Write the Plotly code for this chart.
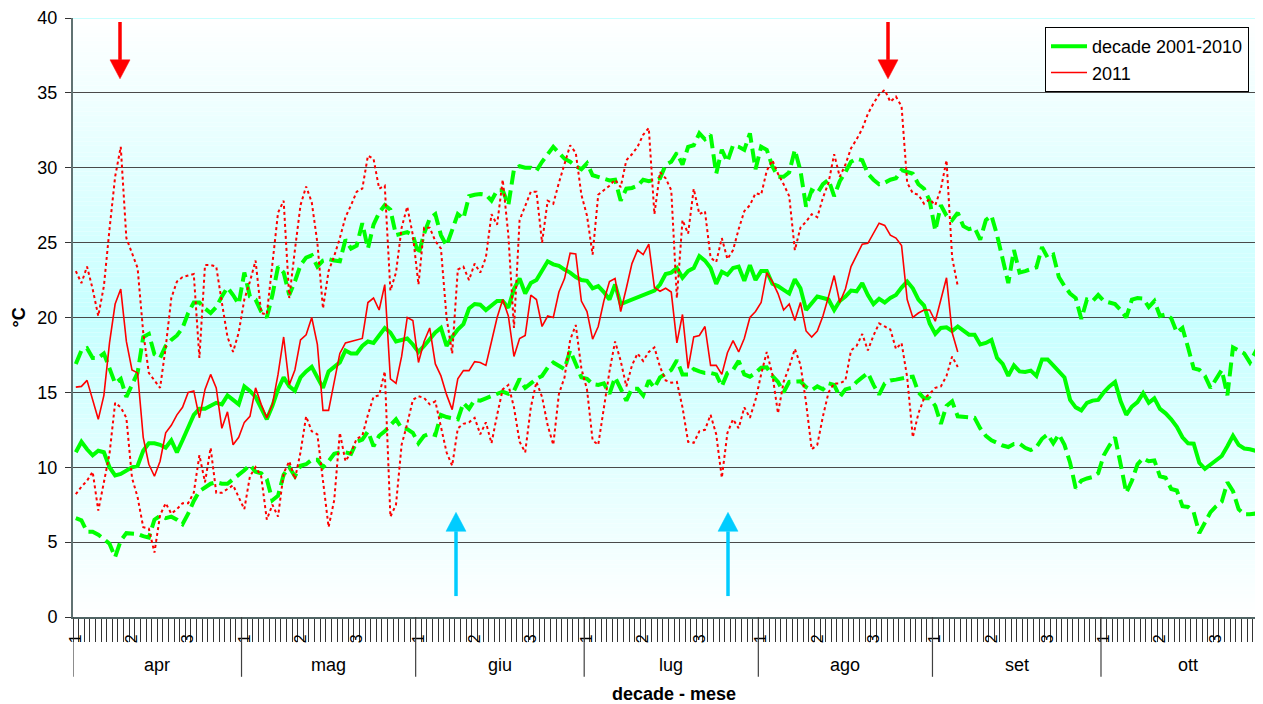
import plotly.graph_objects as go

# ---------------- data ----------------
month_names = ["apr", "mag", "giu", "lug", "ago", "set", "ott"]
month_days = [30, 31, 30, 31, 31, 30, 31]
decade_labels = ["1", "2", "3"]

# decade 2001-2010 : daily mean / max / min (from 1 April)
green_mean = [
    11.0, 11.7, 11.2, 10.8, 11.1, 11.0, 10.0, 9.45, 9.55, 9.8,
    10.0, 10.1, 11.1, 11.6, 11.6, 11.5, 11.3, 11.8, 11.0, 11.8,
    12.7, 13.5, 13.9, 13.9, 14.1, 14.3, 14.2, 14.8, 14.5, 14.2,
    15.4, 15.1, 14.7, 14.0, 13.2, 14.1, 15.2, 16.0, 15.4, 15.1,
    16.0, 16.4, 16.7, 16.0, 15.3, 16.4, 16.7, 17.0, 17.8, 17.6,
    17.6, 18.1, 18.4, 18.3, 18.8, 19.3, 19.0, 18.4, 18.5, 18.6,
    18.2, 17.7, 18.1, 18.6, 19.0, 19.3, 18.1, 18.7, 19.2, 19.55,
    20.6, 20.9, 20.85, 20.5, 20.8, 21.1, 21.1, 20.65, 21.9, 22.6,
    21.6, 22.3, 22.5, 23.1, 23.75, 23.55, 23.45, 23.2, 23.0, 22.7,
    22.5, 22.45, 21.95, 22.1, 21.7, 21.2, 22.2, 20.9, 21.05, 21.2,
    21.35, 21.5, 21.65, 21.8, 22.2, 22.9, 23.0, 23.3, 22.65, 23.1,
    23.3, 24.1, 23.8, 23.3, 22.25, 23.05, 22.85, 23.3, 23.4, 22.45,
    23.5, 22.5, 23.1, 23.1, 22.25, 22.1, 21.85, 21.6, 22.55, 21.95,
    20.5, 20.95, 21.4, 21.3, 21.2, 20.5, 21.1, 21.4, 21.8, 21.75,
    22.3, 21.5, 20.9, 21.25, 21.0, 21.3, 21.5, 22.0, 22.4, 21.95,
    21.2, 20.8, 19.6, 18.9, 19.3, 19.35, 19.1, 19.4, 19.1, 18.85,
    18.85, 18.2, 18.3, 18.5, 17.3, 16.9, 16.1, 16.8, 16.4, 16.36,
    16.45, 16.1, 17.2, 17.2, 16.8, 16.4, 16.0, 14.5, 14.0, 13.8,
    14.3, 14.45, 14.5, 15.0, 15.4, 15.7, 14.4, 13.5, 14.05, 14.35,
    14.95, 14.3, 14.6, 13.9, 13.6, 13.2, 12.7, 12.0, 11.6, 11.57,
    10.3, 9.9, 10.2, 10.5, 10.75, 11.4, 12.1, 11.5, 11.25, 11.2,
    11.1, 10.8, 10.6,
]
green_max = [
    16.9, 17.8, 17.95, 17.3, 17.3, 17.6, 16.6, 15.6, 15.9, 14.7,
    15.5, 16.3, 18.7, 18.9, 17.55, 17.3, 18.1, 18.5, 18.8, 19.3,
    20.3, 21.0, 21.0, 20.6, 20.3, 20.7, 21.4, 22.0, 21.5, 20.9,
    23.0, 21.4, 21.2, 20.4, 20.0, 21.5, 23.4, 23.0, 21.5, 22.4,
    23.5, 24.0, 24.15, 23.4, 23.8, 23.9, 23.8, 23.75, 25.2, 24.6,
    24.8, 26.3, 24.6, 26.2, 27.0, 27.5, 27.2, 25.5, 25.6, 25.7,
    25.5, 24.2, 25.6, 26.6, 26.9, 25.5, 24.8, 25.8, 26.9, 26.6,
    28.1, 28.2, 28.25, 28.2, 27.8, 28.5, 28.5, 27.5, 29.9, 30.1,
    30.0, 30.0, 29.8, 30.4, 30.9, 31.4, 31.0, 30.6, 30.4, 30.1,
    29.9, 30.3, 29.5, 29.4, 29.3, 29.15, 29.2, 27.8, 28.6, 28.65,
    28.8, 29.2, 29.1, 29.2, 29.3, 30.2, 30.4, 31.0, 30.2, 31.4,
    31.5, 32.3, 31.9, 32.2, 29.6, 31.2, 30.4, 31.5, 31.4, 31.2,
    32.3, 29.9, 31.4, 31.2, 30.1, 29.4, 29.4, 29.7, 31.2, 29.8,
    27.4, 28.5, 28.3, 28.9, 29.2, 28.1, 29.1, 29.7, 30.4, 30.6,
    30.5, 29.6, 29.2, 28.9, 29.0, 29.2, 29.3, 29.85, 29.7, 29.6,
    28.9, 28.6, 27.8, 25.8, 27.5, 26.8, 26.5, 27.0, 26.1, 25.9,
    26.0, 25.2, 26.5, 26.8, 25.5, 24.0, 22.3, 24.5, 23.0, 23.1,
    23.2, 23.35, 24.7, 24.0, 24.2, 22.7, 22.1, 21.6, 21.3, 19.9,
    21.2, 21.1, 21.5, 21.1, 21.0, 20.9, 20.5, 20.0, 21.2, 21.3,
    21.27, 20.7, 21.1, 20.1, 20.2, 19.95, 19.0, 19.3, 18.0, 16.6,
    16.5, 16.1, 15.3, 15.9, 16.5, 14.8, 18.0, 17.8, 17.6, 17.0,
    17.7, 17.1, 17.1,
]
green_min = [
    6.6, 6.45, 5.7, 5.7, 5.5, 5.2, 4.9, 4.0, 5.1, 5.6,
    5.6, 5.55, 5.4, 5.3, 6.5, 6.75, 6.6, 6.7, 6.5, 6.2,
    6.9, 7.75, 8.4, 8.65, 8.9, 9.0, 8.9, 8.9, 9.2, 9.45,
    9.8, 10.15, 9.7, 9.6, 9.2, 7.8, 8.1, 9.5, 10.0, 9.4,
    10.1, 10.2, 10.5, 10.5, 10.0, 10.4, 10.9, 11.0, 11.0, 10.9,
    11.7, 11.85, 12.4, 11.4, 12.1, 12.4, 12.8, 13.2, 12.6, 12.55,
    12.3, 11.6, 12.1, 12.25, 12.15, 13.5, 13.35, 13.25, 13.2, 14.3,
    13.9, 14.5, 14.45, 14.6, 14.75, 14.85, 15.05, 14.9, 15.1, 15.9,
    15.3, 15.6, 15.9, 16.1, 16.65, 17.0, 16.75, 16.55, 17.8, 16.9,
    16.0, 15.9, 15.55, 15.5, 15.6, 14.9, 16.0, 15.25, 14.45, 15.25,
    15.25, 14.8, 15.8, 15.3, 16.0, 16.25, 16.5, 17.15, 16.2, 16.2,
    16.55, 16.4, 16.3, 16.3, 16.2, 15.4, 16.3, 16.5, 17.1, 16.2,
    16.05, 16.3, 16.65, 16.67, 16.1, 15.7, 15.0, 15.7, 15.7, 15.74,
    15.35, 15.15, 15.4, 15.2, 15.6, 15.5, 14.7, 15.2, 15.3, 15.7,
    16.0, 16.3, 15.5, 14.85, 15.6, 15.8, 15.85, 15.95, 16.0, 16.05,
    15.0, 14.6, 14.6, 14.1, 12.9, 14.1, 14.4, 13.4, 13.35, 13.35,
    13.3, 12.6, 12.1, 11.8, 11.6, 11.45, 11.35, 11.55, 11.57, 11.3,
    11.15, 11.35, 11.9, 12.2, 11.6, 12.2, 11.5, 10.3, 8.6, 9.1,
    9.25, 9.35, 9.6, 10.8, 11.45, 12.0, 10.2, 8.3, 9.1, 10.2,
    10.6, 10.4, 10.45, 9.4, 9.3, 8.55, 8.45, 7.4, 7.35, 7.0,
    5.6, 6.3, 7.0, 7.4, 7.7, 9.0, 8.4, 7.2, 6.86, 6.86,
    6.9, 6.97, 7.0,
]

# 2011 : daily mean / max / min (from 1 April)
red_mean = [
    15.35, 15.4, 15.8, 14.5, 13.2, 14.8, 18.3, 20.9, 21.9, 18.4,
    16.5, 16.3, 12.0, 10.2, 9.4, 10.4, 12.3, 12.8, 13.5, 14.0,
    15.0, 15.1, 13.3, 15.2, 16.2, 15.3, 12.6, 13.7, 11.5, 12.0,
    13.0, 13.4, 15.3, 14.2, 13.3, 14.2, 16.2, 18.7, 15.5, 16.5,
    18.5, 18.85, 20.0, 18.2, 13.8, 13.8, 15.6, 17.6, 18.3, 18.4,
    18.45, 18.6, 21.0, 21.3, 20.5, 22.2, 15.9, 15.6, 17.4, 20.0,
    19.8, 17.0, 18.4, 19.3, 16.9, 16.1, 14.85, 13.85, 15.9, 16.45,
    16.45, 17.05, 17.0, 16.8, 18.4, 20.0, 21.2, 20.1, 17.4, 18.6,
    18.8, 21.5, 21.2, 19.4, 20.1, 20.0, 21.7, 22.6, 24.3, 24.25,
    21.1, 20.4, 18.55, 19.4, 21.1, 22.4, 22.6, 20.4, 21.95, 23.6,
    24.5, 24.2, 24.9, 22.0, 21.75, 21.95, 21.7, 18.3, 20.2, 16.6,
    18.7, 18.8, 19.4, 16.8, 16.8, 16.2, 17.65, 18.45, 17.7, 18.6,
    20.0, 20.4, 21.0, 23.0, 22.4, 21.6, 20.5, 20.9, 19.8, 21.0,
    19.1, 18.7, 19.1, 20.1, 21.4, 22.8, 21.0, 21.9, 23.4, 24.2,
    24.9, 24.95, 25.6, 26.3, 26.15, 25.5, 25.3, 24.8, 21.2, 20.0,
    20.3, 20.5, 20.5, 19.75, 21.2, 22.65, 19.0, 17.7,
]
red_max = [
    23.1, 22.3, 23.4, 21.9, 20.1, 22.1, 25.9, 29.4, 31.4, 25.3,
    24.3, 23.3, 19.0, 16.3, 15.8, 15.3, 18.0, 21.3, 22.4, 22.7,
    22.8, 22.9, 17.3, 23.5, 23.5, 23.4, 21.0, 18.7, 17.7, 19.0,
    21.2, 22.4, 23.8, 20.3, 20.2, 23.5, 27.0, 27.8, 21.3, 24.5,
    27.5, 28.75, 27.7, 25.0, 20.6, 23.1, 24.1, 25.3, 26.7, 27.5,
    28.4, 28.6, 30.8, 30.6, 28.6, 28.8, 21.8, 23.0, 26.0, 27.4,
    25.5, 22.2, 26.0, 26.0, 25.1, 24.6, 20.0, 17.6, 23.2, 23.4,
    22.5, 23.6, 23.0, 24.0, 26.9, 26.2, 29.2, 25.5, 19.3, 26.5,
    27.5, 28.4, 28.4, 25.0, 27.8, 27.6, 29.0, 30.2, 31.5, 31.0,
    28.2, 26.8, 24.2, 28.2, 28.5, 28.8, 29.2, 28.7, 30.5, 30.9,
    31.4, 32.2, 32.65, 26.9, 29.7, 29.3, 28.5, 21.3, 26.5, 25.6,
    28.6, 26.9, 27.1, 24.0, 23.7, 25.3, 23.9, 24.5, 25.9, 27.1,
    27.5, 28.3, 28.2, 29.8, 30.5, 29.6, 28.9, 28.1, 24.5, 26.0,
    26.4, 26.9, 26.7, 28.0, 29.0, 30.9, 29.4, 30.2, 31.3, 31.9,
    32.6, 33.6, 34.3, 34.9, 35.2, 34.4, 34.75, 34.1, 29.0, 28.3,
    28.2, 27.6, 27.9, 27.5, 28.6, 30.5, 24.0, 22.1,
]
red_min = [
    8.2, 8.7, 9.1, 9.7, 7.1, 9.1, 10.9, 14.3, 14.0, 13.3,
    9.3, 8.0, 6.0, 5.9, 4.3, 6.8, 7.6, 6.9, 7.2, 7.6,
    7.6, 8.3, 10.8, 9.0, 11.3, 8.3, 8.3, 8.55, 8.8, 8.0,
    7.2, 9.4, 10.0, 9.4, 6.5, 7.5, 6.7, 9.6, 10.4, 9.2,
    11.0, 13.4, 12.4, 12.2, 9.1, 6.0, 7.8, 12.3, 10.4, 11.0,
    11.9, 12.1, 13.5, 14.7, 14.8, 16.4, 6.7, 7.5, 11.5, 12.9,
    14.5, 14.74, 14.63, 14.2, 14.4, 12.8, 11.0, 10.1, 12.6, 12.9,
    13.0, 13.3, 12.2, 13.0, 11.6, 13.5, 15.2, 15.5, 14.0, 11.7,
    11.0, 14.0, 15.7, 14.7, 12.8, 11.5, 14.9, 16.0, 18.5, 19.5,
    16.6, 15.2, 11.8, 11.5, 14.0, 16.4, 18.4, 17.1, 15.4, 16.8,
    17.6, 17.1, 17.7, 18.0, 16.7, 15.8, 15.65, 15.7, 14.0, 11.7,
    11.63, 12.4, 12.5, 13.5, 12.2, 9.3, 12.3, 13.2, 12.6, 14.0,
    13.3, 14.5, 16.2, 17.7, 16.2, 13.6, 15.7, 16.7, 17.9, 16.85,
    14.3, 11.2, 11.5, 13.4, 15.0, 15.6, 15.6, 15.8, 17.8, 18.1,
    18.9, 17.8, 18.8, 19.6, 19.4, 19.2, 17.9, 18.3, 16.0, 12.0,
    13.6, 14.6, 14.9, 15.3, 15.4, 16.1, 17.4, 16.7,
]

days_green = list(range(1, len(green_mean) + 1))
days_red = list(range(1, len(red_mean) + 1))

# ---------------- styling / geometry ----------------
# The page body has an 8px default margin, so the figure is drawn 8px
# smaller and every reference pixel position is shifted by that offset.
PAGE_OFF = 8
REF_W, REF_H = 1263, 704
REF_L, REF_T, REF_B = 73, 16, 617          # plot area in reference pixels
W, H = REF_W - PAGE_OFF, REF_H - PAGE_OFF
ML, MR, MT = REF_L - PAGE_OFF, 0, REF_T - PAGE_OFF
MB = H - (REF_B - PAGE_OFF)
PLOT_W = W - ML - MR
PLOT_H = H - MT - MB
X_MIN, X_MAX = 0.5, 212.34
Y_MIN, Y_MAX = 0, 40
PX_PER_DAY = PLOT_W / (X_MAX - X_MIN)
PX_PER_DEG = PLOT_H / (Y_MAX - Y_MIN)

GREEN = "#00ff00"
RED = "#ff0000"
CYAN = "#00ccff"
FONT = "Liberation Sans, Arial, sans-serif"


def px_to_day(px):
    return X_MIN + (px - REF_L) / PX_PER_DAY


def py_to_deg(py):
    return Y_MAX - (py - REF_T) / PX_PER_DEG


def py_to_paper(py):
    return (REF_B - py) / PLOT_H


fig = go.Figure()

# green (decade) series
fig.add_trace(go.Scatter(x=days_green, y=green_max, mode="lines", showlegend=False,
                         line=dict(color=GREEN, width=4, dash="14px,6px"), hoverinfo="skip"))
fig.add_trace(go.Scatter(x=days_green, y=green_min, mode="lines", showlegend=False,
                         line=dict(color=GREEN, width=4, dash="14px,6px"), hoverinfo="skip"))
fig.add_trace(go.Scatter(x=days_green, y=green_mean, mode="lines", name="decade 2001-2010",
                         legendgroup="g1", line=dict(color=GREEN, width=4)))
# red (2011) series
fig.add_trace(go.Scatter(x=days_red, y=red_max, mode="lines", showlegend=False,
                         line=dict(color=RED, width=2, dash="3px,3px"), hoverinfo="skip"))
fig.add_trace(go.Scatter(x=days_red, y=red_min, mode="lines", showlegend=False,
                         line=dict(color=RED, width=2, dash="3px,3px"), hoverinfo="skip"))
fig.add_trace(go.Scatter(x=days_red, y=red_mean, mode="lines", name="2011",
                         legendgroup="g2", line=dict(color=RED, width=1.6)))

shapes = []
# vertical gradient background (white - light cyan - white)
n_bands = 160
for i in range(n_bands):
    y0 = Y_MIN + (Y_MAX - Y_MIN) * i / n_bands
    y1 = Y_MIN + (Y_MAX - Y_MIN) * (i + 1) / n_bands
    t = (i + 0.5) / n_bands
    w = 1 - abs(t - 0.5) * 2
    r = round(255 - (255 - 198) * w)
    shapes.append(dict(type="rect", xref="paper", yref="y", x0=0, x1=1, y0=y0, y1=y1,
                       fillcolor=f"rgb({r},255,255)", line=dict(width=0), layer="below"))
# light top border
shapes.append(dict(type="line", xref="paper", yref="y", x0=0, x1=1, y0=Y_MAX, y1=Y_MAX,
                   line=dict(color="#c8ffff", width=2), layer="above"))

# month separators below the axis
cum = 0
month_centers = []
tickvals, ticktext = [], []
for name, nd in zip(month_names, month_days):
    start = cum + 0.5
    if start <= X_MAX:
        shapes.append(dict(type="line", xref="x", yref="paper", x0=start, x1=start,
                           y0=0, y1=py_to_paper(677), line=dict(color="#404040", width=1.2)))
    month_centers.append(cum + nd / 2 + 0.5)
    for k, lab in enumerate(decade_labels):
        d = cum + 1 + 10 * k
        if d <= X_MAX:
            tickvals.append(d)
            ticktext.append(lab)
    cum += nd
minor_vals = [k + 0.5 for k in range(0, 213)]


def add_arrow(xpx, ytail, ybase, ytip, color):
    xd = px_to_day(xpx)
    hw = 10 / PX_PER_DAY
    shapes.append(dict(type="line", xref="x", yref="y", x0=xd, x1=xd,
                       y0=py_to_deg(ytail), y1=py_to_deg(ybase), line=dict(color=color, width=3.5),
                       layer="above"))
    path = (f"M {xd - hw},{py_to_deg(ybase)} L {xd + hw},{py_to_deg(ybase)} "
            f"L {xd},{py_to_deg(ytip)} Z")
    shapes.append(dict(type="path", xref="x", yref="y", path=path, fillcolor=color,
                       line=dict(color=color, width=0.5), layer="above"))


add_arrow(120, 20, 58, 77, RED)
add_arrow(888, 20, 58, 77, RED)
add_arrow(456, 596, 531, 512, CYAN)
add_arrow(728, 596, 531, 512, CYAN)

annotations = []
for name, c in zip(month_names, month_centers):
    if c <= X_MAX:
        annotations.append(dict(x=c, y=py_to_paper(665), xref="x", yref="paper", text=name,
                                showarrow=False, font=dict(family=FONT, size=18, color="black"),
                                xanchor="center", yanchor="middle"))
annotations.append(dict(x=px_to_day(674), y=py_to_paper(694), xref="x", yref="paper",
                        text="<b>decade - mese</b>", showarrow=False,
                        font=dict(family=FONT, size=18, color="black"),
                        xanchor="center", yanchor="middle"))
annotations.append(dict(x=(18 - REF_L) / PLOT_W, y=20, xref="paper", yref="y",
                        text="<b>°C</b>", showarrow=False, textangle=-90,
                        font=dict(family=FONT, size=18, color="black"),
                        xanchor="center", yanchor="middle"))

fig.update_layout(
    width=W, height=H,
    margin=dict(l=ML, r=MR, t=MT, b=MB, pad=0),
    paper_bgcolor="white", plot_bgcolor="white",
    font=dict(family=FONT, size=16, color="black"),
    shapes=shapes, annotations=annotations,
    showlegend=True,
    legend=dict(x=(1045 - REF_L) / PLOT_W, y=py_to_paper(25), xanchor="left", yanchor="top",
                bgcolor="white", bordercolor="black", borderwidth=1,
                font=dict(family=FONT, size=18, color="black"),
                traceorder="grouped", tracegroupgap=0, itemwidth=36),
    xaxis=dict(range=[X_MIN, X_MAX], tickmode="array", tickvals=tickvals, ticktext=ticktext,
               tickangle=-90, ticks="", ticklabelstandoff=9, showgrid=False, zeroline=False,
               showline=True, linecolor="#506464", linewidth=2,
               tickfont=dict(family=FONT, size=16, color="black"),
               minor=dict(tickmode="array", tickvals=minor_vals, ticks="outside", ticklen=23,
                          tickcolor="#333333", tickwidth=1, showgrid=False)),
    yaxis=dict(range=[Y_MIN, Y_MAX], tickmode="linear", tick0=0, dtick=5, showgrid=True,
               gridcolor="#4a4a4a", gridwidth=1, zeroline=False, showline=True,
               linecolor="#607272", linewidth=2, ticks="outside", ticklen=6, tickcolor="#333333",
               ticklabelstandoff=4, ticklabeloverflow="allow",
               tickfont=dict(family=FONT, size=18, color="black")),
)

fig.write_html("out.html")
